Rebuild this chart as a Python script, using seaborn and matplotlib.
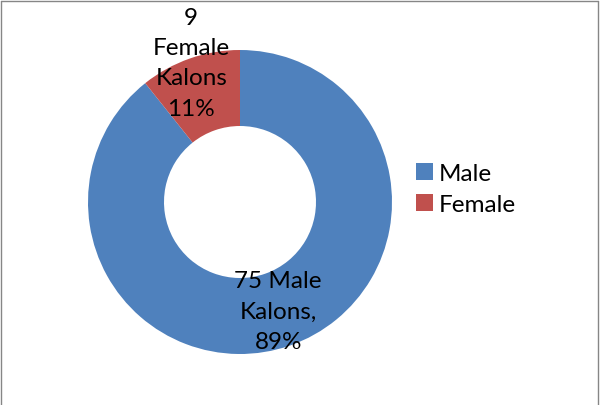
import numpy as np
import seaborn as sns
import matplotlib.pyplot as plt
from matplotlib.lines import Line2D

# datos del grafico
categorias = ["Male", "Female"]
valores = [75, 9]
colores = ["#4F81BD", "#C0504D"]

sns.set_theme(style="white")
plt.rcParams['font.family'] = ['Lato', 'DejaVu Sans']
plt.rcParams['text.color'] = 'black'

fig = plt.figure(figsize=(6, 4.06), dpi=100)
ax = fig.add_axes([88 / 600, 51 / 406, 304 / 600, 304 / 406])

wedges, _ = ax.pie(valores, colors=colores, startangle=90, counterclock=False,
                   radius=1, wedgeprops=dict(width=0.5, edgecolor="none"))
ax.set_xlim(-1, 1)
ax.set_ylim(-1, 1)
ax.set_aspect("equal")

total = sum(valores)
pcts = [round(100 * v / total) for v in valores]
etiquetas = [
    f"{valores[0]} {categorias[0]}\nKalons,\n{pcts[0]}%",
    f"{valores[1]}\n{categorias[1]}\nKalons\n{pcts[1]}%",
]
distancias = [0.76, 0.972]

# etiquetas en el angulo medio de cada cuña
for w, txt, d in zip(wedges, etiquetas, distancias):
    ang = np.deg2rad((w.theta1 + w.theta2) / 2)
    ax.text(d * np.cos(ang), d * np.sin(ang), txt, ha="center", va="center",
            fontsize=17.5, color="black", linespacing=1.55)

fig.legend(wedges, categorias, loc="center left", bbox_to_anchor=(416 / 600, 0.532),
           frameon=False, fontsize=17.5, handlelength=0.7, handleheight=0.7,
           handletextpad=0.25, labelspacing=0.38, borderpad=0, borderaxespad=0,
           labelcolor="black")

# borde gris del area del grafico
gris = "#868686"
fig.add_artist(Line2D([0.002, 0.997], [0.995, 0.995], color=gris, lw=1))
fig.add_artist(Line2D([0.002, 0.002], [0.0, 0.995], color=gris, lw=1))
fig.add_artist(Line2D([0.997, 0.997], [0.0, 0.995], color=gris, lw=1))

fig.savefig("out.png", dpi=100)
